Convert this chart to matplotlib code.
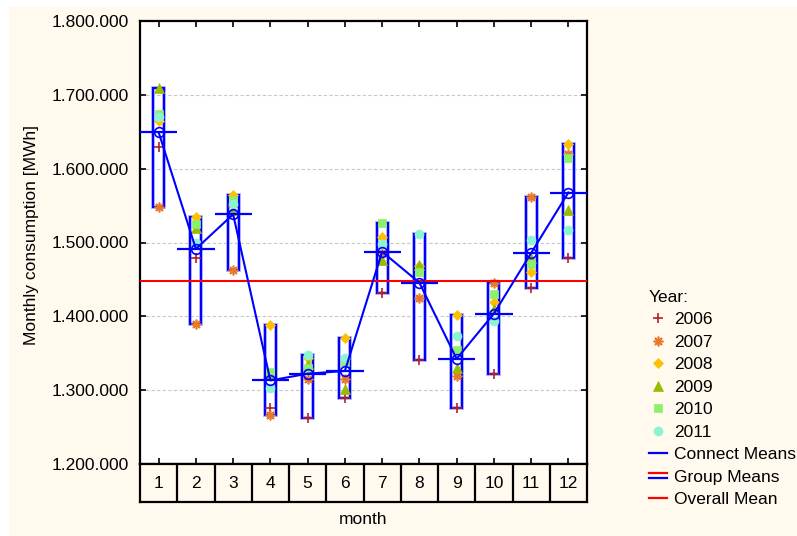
import matplotlib
matplotlib.use("Agg")
import matplotlib.pyplot as plt
import numpy as np
from matplotlib.lines import Line2D
from matplotlib.patches import Rectangle
from matplotlib.legend_handler import HandlerBase
from matplotlib.ticker import FuncFormatter

plt.rcParams['font.family'] = ['Liberation Sans', 'DejaVu Sans']

months = list(range(1, 13))
years = ["2006", "2007", "2008", "2009", "2010", "2011"]

# monthly consumption per year [MWh]
y2006 = [1629300, 1478600, 1548000, 1276300, 1262700, 1289000, 1432000, 1340500, 1276300, 1322300, 1438800, 1479400]
y2007 = [1548500, 1390000, 1462400, 1266400, 1315000, 1314700, 1486000, 1424400, 1319200, 1445600, 1561600, 1619400]
y2008 = [1665000, 1535000, 1565000, 1388300, 1343000, 1370200, 1507500, 1467600, 1401800, 1419900, 1460500, 1633000]
y2009 = [1709000, 1520000, 1543600, 1320000, 1335000, 1301200, 1475900, 1469500, 1329600, 1410400, 1479400, 1543600]
y2010 = [1674000, 1524600, 1558000, 1325000, 1330500, 1338000, 1526000, 1460500, 1354000, 1429900, 1471300, 1614000]
y2011 = [1670000, 1499800, 1552000, 1303000, 1347600, 1343000, 1497500, 1511100, 1373400, 1393700, 1503000, 1516500]

series = [y2006, y2007, y2008, y2009, y2010, y2011]
markers = ['+', (8, 2, 0), 'D', '^', 's', 'o']
msizes = [7, 7, 5, 6.5, 6, 6.5]
colors = ['#B22222', '#E8782A', '#FFC000', '#99BB00', '#8CF06A', '#8CF5D0']

cream = '#FFF9EE'
blue = '#0000FF'

data = np.array(series)
means = data.mean(axis=0)
lows = data.min(axis=0)
highs = data.max(axis=0)
overall = data.mean()

fig = plt.figure(figsize=(7.97, 5.36), dpi=100, facecolor='white')
fig.patches.append(Rectangle((9 / 797, 0), 1, 1 - 7 / 536, transform=fig.transFigure,
                             facecolor=cream, edgecolor='none', zorder=-10))

ax = fig.add_axes([140 / 797, 1 - 464 / 536, 447 / 797, 443 / 536])
ax.set_facecolor('white')
ax.set_xlim(0.5, 12.5)
ax.set_ylim(1200000, 1800000)
ax.set_yticks(np.arange(1200000, 1800001, 100000))
ax.yaxis.set_major_formatter(FuncFormatter(lambda v, p: f"{int(v):,}".replace(",", ".")))
ax.set_xticks(months)
ax.tick_params(axis='x', direction='in', top=True, labelbottom=False, length=4, width=1.2)
ax.tick_params(axis='y', direction='in', right=True, length=4, width=1.2, labelsize=12.5, pad=8)
for s in ax.spines.values():
    s.set_linewidth(1.6)
ax.grid(axis='y', color='#C8C8C8', linestyle=(0, (3, 2)), linewidth=0.8)
ax.set_axisbelow(True)

# range boxes
ax.bar(months, highs - lows, bottom=lows, width=0.3, facecolor='none',
       edgecolor='#B4B4FF', linewidth=2.8, zorder=2)
ax.bar(months, highs - lows, bottom=lows, width=0.3, facecolor='none',
       edgecolor=blue, linewidth=1.5, zorder=3)

# yearly points
for vals, m, ms, c in zip(series, markers, msizes, colors):
    ax.plot(months, vals, linestyle='none', marker=m, markersize=ms, color=c,
            markeredgewidth=1.2 if m in ('+', (8, 2, 0)) else 0.5, zorder=4)

# overall mean
ax.axhline(overall, color='#FF0000', linewidth=1.5, zorder=5)
# group means
ax.hlines(means, np.array(months) - 0.5, np.array(months) + 0.5, color=blue, linewidth=1.6, zorder=6)
# connect means
ax.plot(months, means, color=blue, linewidth=1.5, marker='o', markersize=7,
        markerfacecolor='none', markeredgecolor=blue, markeredgewidth=1.2, zorder=7)

ax.set_ylabel('Monthly consumption [MWh]', fontsize=12.5)
ax.yaxis.set_label_coords(-0.226, 0.517)

# category strip under the plot
sx = fig.add_axes([140 / 797, 1 - 502 / 536, 447 / 797, 38 / 536])
sx.set_facecolor(cream)
sx.set_xlim(0.5, 12.5)
sx.set_ylim(0, 1)
sx.set_xticks([])
sx.set_yticks([])
for s in sx.spines.values():
    s.set_linewidth(1.6)
for b in np.arange(1.5, 12.5, 1):
    sx.axvline(b, color='black', linewidth=1.6)
for m in months:
    sx.text(m, 0.5, str(m), ha='center', va='center', fontsize=12.5)
sx.set_xlabel('month', fontsize=12.5, labelpad=7)


class DoubleLine(HandlerBase):
    def create_artists(self, legend, orig_handle, xdescent, ydescent, width, height, fontsize, trans):
        y = height / 2 - ydescent
        top = Line2D([-xdescent, width - xdescent], [y + 2, y + 2], color='#FF0000', lw=1.6, transform=trans)
        bot = Line2D([-xdescent, width - xdescent], [y - 2, y - 2], color=blue, lw=1.6, transform=trans)
        return [top, bot]


handles = []
for yr, m, ms, c in zip(years, markers, msizes, colors):
    handles.append(Line2D([], [], linestyle='none', marker=m, markersize=ms, color=c,
                          markeredgewidth=1.2 if m in ('+', (8, 2, 0)) else 0.5))
h_conn = Line2D([], [], color=blue, lw=1.6)
h_group = Line2D([], [], color=blue, lw=1.6)
h_over = Line2D([], [], color='#FF0000', lw=1.6)
handles += [h_conn, h_group, h_over]
labels = years + ['Connect Means', 'Group Means', 'Overall Mean']

fig.legend(handles, labels, loc='upper left', bbox_to_anchor=(649 / 797, 1 - 290 / 536),
           frameon=False, title='Year:', title_fontsize=12.5, fontsize=12.5, alignment='left',
           handlelength=1.05, handletextpad=0.4, labelspacing=0.42, borderpad=0, borderaxespad=0,
           handler_map={h_group: DoubleLine()})

fig.savefig('out.png', dpi=100, facecolor=fig.get_facecolor())
